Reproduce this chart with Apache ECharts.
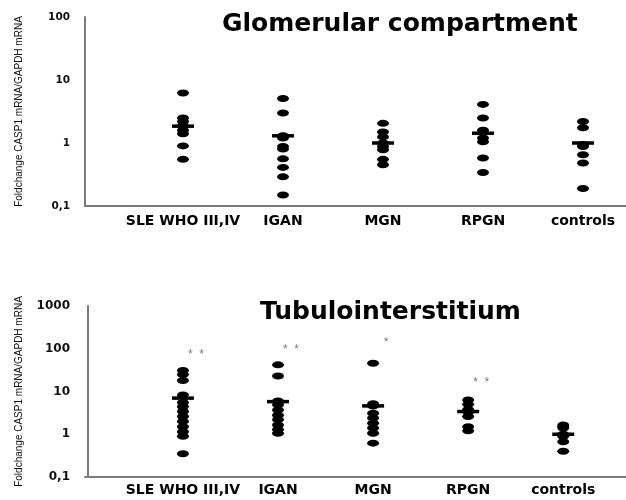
<!DOCTYPE html>
<html>
<head>
<meta charset="utf-8">
<script src="https://cdn.jsdelivr.net/npm/echarts@6/dist/echarts.min.js"></script>
<style>html,body{margin:0;padding:0;background:#fff}#c{width:626px;height:500px}</style>
</head>
<body>
<div id="c"></div>
<script>
const categories = ['SLE WHO III,IV', 'IGAN', 'MGN', 'RPGN', 'controls'];
const yAxisName = 'Foldchange CASP1 mRNA/GAPDH mRNA';
const titleGlom = 'Glomerular compartment';
const titleTub = 'Tubulointerstitium';

// Glomerular compartment values
const glomSLE = [6.2, 2.5, 2.2, 1.9, 1.6, 1.4, 0.9, 0.55];
const glomIGAN = [5.1, 3.0, 1.3, 1.2, 0.88, 0.8, 0.56, 0.41, 0.29, 0.15];
const glomMGN = [2.05, 1.5, 1.25, 1.0, 0.88, 0.78, 0.55, 0.45];
const glomRPGN = [4.1, 2.5, 1.6, 1.2, 1.05, 0.58, 0.34];
const glomControls = [2.2, 1.75, 0.95, 0.88, 0.65, 0.48, 0.19];
const glomMeans = [1.85, 1.3, 1.0, 1.43, 1.0];

// Tubulointerstitium values
const tubSLE = [31, 25, 18, 8.3, 5.5, 4.4, 3.4, 2.6, 2.0, 1.5, 1.15, 0.9, 0.35];
const tubIGAN = [42, 23, 6.0, 4.9, 3.7, 2.8, 2.2, 1.65, 1.3, 1.05];
const tubMGN = [46, 5.2, 4.6, 3.1, 2.4, 1.8, 1.4, 1.05, 0.62];
const tubRPGN = [6.3, 5.0, 3.8, 3.3, 2.6, 1.5, 1.2];
const tubControls = [1.65, 1.5, 1.4, 1.0, 0.9, 0.67, 0.4];
const tubMeans = [7.0, 5.8, 4.6, 3.4, 1.0];

// significance marks
const tubStars = ['*  *', '*  *', '*', '*  *'];
const tubStarLevels = [85, 112, 162, 18.7];

const glomGroups = [glomSLE, glomIGAN, glomMGN, glomRPGN, glomControls];
const tubGroups = [tubSLE, tubIGAN, tubMGN, tubRPGN, tubControls];

function points(groups) {
  const out = [];
  groups.forEach((g, i) => g.forEach(v => out.push([i + 1, v])));
  return out;
}
function means(arr) { return arr.map((v, i) => [i + 1, v]); }

const catFormatter = v => {
  const r = Math.round(v);
  return (Math.abs(v - r) < 1e-6 && r >= 1 && r <= categories.length) ? categories[r - 1] : '';
};
const logFormatter = v => String(+Number(v).toPrecision(6)).replace('.', ',');

const axisLineStyle = { color: '#7a7a7a', width: 2 };

function xAxisOpt(gridIndex, min, max, margin) {
  return {
    type: 'value', gridIndex, min, max,
    splitLine: { show: false }, axisTick: { show: false },
    axisLine: { show: true, lineStyle: axisLineStyle },
    axisLabel: { formatter: catFormatter, margin, color: '#000',
      fontFamily: 'DejaVu Sans', fontWeight: 'bold', fontSize: 14 }
  };
}
function yAxisOpt(gridIndex, min, max, fontSize) {
  return {
    type: 'log', logBase: 10, gridIndex, min, max,
    splitLine: { show: false }, axisTick: { show: false },
    axisLine: { show: true, lineStyle: axisLineStyle },
    axisLabel: { formatter: logFormatter, margin: 15, color: '#111',
      fontFamily: 'DejaVu Sans', fontWeight: 'bold', fontSize },
    name: yAxisName, nameLocation: 'middle', nameRotate: 90, nameGap: 61,
    nameTextStyle: { fontFamily: 'Liberation Sans', fontSize: 10, color: '#111' }
  };
}

const dotStyle = { color: '#000', opacity: 1 };

const option = {
  backgroundColor: '#fff',
  animation: false,
  title: [
    { text: titleGlom, left: 222, top: 12, padding: 0,
      textStyle: { fontFamily: 'DejaVu Sans', fontWeight: 'bold', fontSize: 25, color: '#000', lineHeight: 25 } },
    { text: titleTub, left: 260, top: 300, padding: 0,
      textStyle: { fontFamily: 'DejaVu Sans', fontWeight: 'bold', fontSize: 25, color: '#000', lineHeight: 25 } }
  ],
  grid: [
    { left: 85, right: 0, top: 17, height: 189, containLabel: false, outerBoundsMode: 'none' },
    { left: 85, right: 0, top: 306, height: 171, containLabel: false, outerBoundsMode: 'none' }
  ],
  xAxis: [xAxisOpt(0, 0.02, 5.43, 8), xAxisOpt(1, -0.03, 5.66, 6)],
  yAxis: [yAxisOpt(0, 0.1, 100, 10.5), yAxisOpt(1, 0.1, 1000, 12)],
  series: [
    { type: 'scatter', xAxisIndex: 0, yAxisIndex: 0, data: points(glomGroups),
      symbol: 'circle', symbolSize: [12, 7], itemStyle: dotStyle },
    { type: 'scatter', xAxisIndex: 0, yAxisIndex: 0, data: means(glomMeans),
      symbol: 'rect', symbolSize: [22, 3.5], itemStyle: dotStyle, z: 3 },
    { type: 'scatter', xAxisIndex: 1, yAxisIndex: 1, data: points(tubGroups),
      symbol: 'circle', symbolSize: [12, 7], itemStyle: dotStyle },
    { type: 'scatter', xAxisIndex: 1, yAxisIndex: 1, data: means(tubMeans),
      symbol: 'rect', symbolSize: [22, 3.5], itemStyle: dotStyle, z: 3 },
    { type: 'scatter', xAxisIndex: 1, yAxisIndex: 1,
      data: tubStarLevels.map((v, i) => ({ value: [i + 1, v], label: { formatter: tubStars[i] } })),
      symbol: 'circle', symbolSize: 1, silent: true,
      itemStyle: { color: 'rgba(0,0,0,0)' },
      label: { show: true, position: 'inside', offset: [13, 3], color: '#555',
        fontFamily: 'Liberation Sans', fontSize: 12 } }
  ]
};

const chart = echarts.init(document.getElementById('c'), null, { renderer: 'canvas' });
chart.setOption(option);
</script>
</body>
</html>
